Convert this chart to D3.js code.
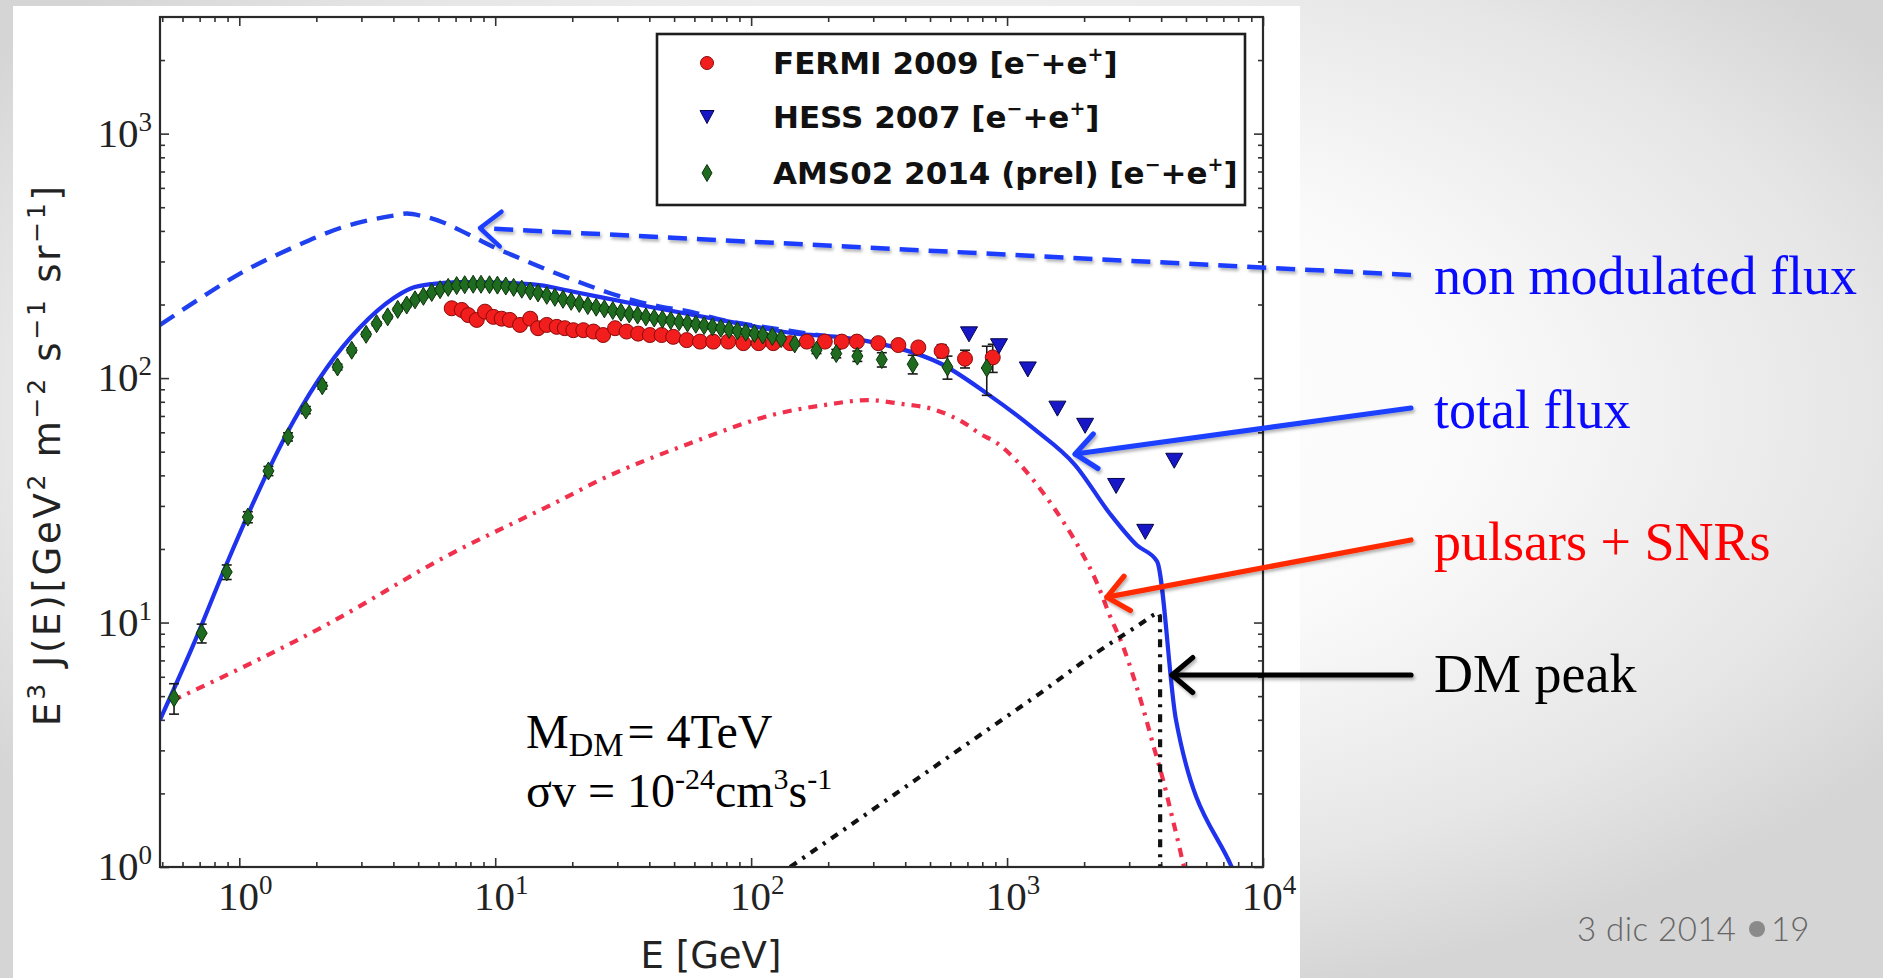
<!DOCTYPE html>
<html>
<head>
<meta charset="utf-8">
<script src="https://cdn.jsdelivr.net/npm/d3@7"></script>
<style>
  html, body { margin: 0; padding: 0; overflow: hidden; background: #fff; }
  svg { display: block; }
</style>
</head>
<body>
<svg id="chart" width="1883" height="978"></svg>
<script>
// ---------------- data ----------------
// AMS-02 2014 (preliminary) e- + e+ : energy [GeV], E^3 J(E), error
const amsE = [0.556, 0.713, 0.893, 1.08, 1.30, 1.55, 1.82, 2.11, 2.42, 2.75,
  3.13, 3.44, 3.80, 4.16, 4.51, 4.86, 5.24, 5.65, 6.09, 6.55,
  7.07, 7.6, 8.2, 8.8, 9.5, 10.2, 11.0, 11.8, 12.7, 13.7,
  14.7, 15.9, 17.1, 18.4, 19.8, 21.3, 23.0, 24.8, 26.7, 28.8,
  31.0, 33.4, 36.0, 38.8, 41.8, 45.0, 48.5, 52.3, 56.4, 60.8,
  65.5, 70.6, 76.1, 82.0, 88.4, 95.3, 103, 111, 121, 131,
  148, 180, 215, 260, 324, 428, 585, 833];
const amsFlux = [4.92, 9.05, 16.1, 27.0, 41.7, 57.5, 74, 93, 111, 130,
  151, 167, 178, 191, 199, 209, 216, 224, 230, 235,
  239, 241, 242, 242, 241, 240, 238, 235, 231, 227,
  223, 218, 214, 210, 206, 202, 198, 195, 192, 189,
  186, 183, 181, 178, 176, 174, 172, 170, 168, 166,
  164, 162, 160, 158, 156, 154, 152, 150, 148, 145,
  138, 130, 126, 123, 119, 114, 111, 110];
const amsErr = [0.7, 0.8, 1.1, 1.4, 1.8, 2.2, 2.5, 2.8, 3, 3,
  3, 3, 3, 3, 3, 3, 3, 3, 3, 3,
  3, 3, 3, 3, 3, 3, 3, 3, 3, 3,
  3, 3, 3, 3, 3, 3, 3, 3, 3, 3,
  3, 3, 3, 3, 3, 3, 3, 3, 3, 3,
  3, 3, 3, 3, 3, 3, 3, 3, 3, 3,
  3, 4, 5, 6, 8, 10, 12, 25];

// Fermi-LAT 2009 e- + e+
const fermiE = [6.76, 7.40, 7.85, 8.47, 9.12, 9.84, 10.6, 11.4, 12.5, 13.7,
  14.7, 15.9, 17.4, 18.7, 20.2, 22.1, 24.2, 26.4, 29.4, 32.6,
  36.2, 40.2, 44.7, 49.6, 56.0, 63.1, 71.1, 81.4, 93.2, 107,
  122, 142, 165, 194, 226, 259, 314, 376, 450, 555,
  685, 879];
const fermiFlux = [193, 190, 181, 173, 187, 178, 175, 173, 165, 175,
  160, 165, 162, 160, 157, 157, 155, 150, 160, 155,
  152, 150, 150, 147.5, 143, 141, 141, 141, 139, 139,
  139, 139, 141, 141, 141, 141, 139, 136.5, 133.5, 129,
  120, 121.5];
const fermiErr = [3, 3, 3, 3, 3, 3, 3, 3, 3, 3,
  3, 3, 3, 3, 3, 3, 3, 3, 3, 3,
  3, 3, 3, 3, 3, 3, 3, 3, 3, 3,
  3, 3, 3, 3, 4, 4, 5, 5, 6, 8,
  10, 16];

// H.E.S.S. 2007 e- + e+
const hessE = [710, 930, 1205, 1573, 2018, 2667, 3466, 4500];
const hessFlux = [151, 135, 108.5, 75, 63.8, 36.2, 23.5, 45.9];

// model curves
const totalE = [0.49, 0.661, 0.893, 1.205, 1.63, 2.195, 2.96, 4.0, 4.65, 5.74,
  7.3, 10, 14.9, 20, 36.8, 90.4, 150, 221, 300, 382,
  547, 833, 1264, 1845, 2515, 3218, 3855, 4570, 7550, 8100];
const totalFlux = [4.0, 8.1, 17.4, 35.5, 66.7, 110, 161, 212, 232, 243,
  247, 246, 240, 226, 199, 167, 152, 147, 140, 132,
  115, 86.6, 62.4, 44.1, 28.0, 20.7, 17.8, 4.0, 1.0, 0.85];

const nonModE = [0.49, 0.661, 1.04, 1.63, 2.55, 4.0, 4.5, 5.2, 6.27, 7.3,
  8.47, 9.84, 12.5, 16.4, 21.5, 27.2, 34.7, 44.1, 57.7, 73.2,
  99, 126, 160, 200];
const nonModFlux = [165, 203, 273, 343, 415, 462, 471, 460, 433, 402,
  372, 344, 309, 274, 246, 225, 208, 196, 187, 175,
  165, 159, 153, 148];

const pulsarE = [0.55, 2.195, 6.46, 17.9, 25.7, 57.4, 128, 200, 286, 380,
  523, 700, 781, 912, 1120, 1387, 1660, 1950, 2240, 2500,
  2850, 3150, 3445, 3710, 4070, 4380, 4710, 4880, 5150];
const pulsarFlux = [4.8, 9.8, 18.7, 31.6, 38.3, 54, 71.7, 78, 81.3, 78.6,
  74.2, 64.3, 59.3, 54.3, 44.5, 33.8, 25.8, 19.5, 14.6, 10.9,
  7.9, 5.8, 4.25, 3.2, 2.27, 1.66, 1.21, 1.03, 0.85];

const dmE = [142, 1345, 1940, 2480, 3270, 3710, 3900, 3960, 3965];
const dmFlux = [1.0, 5.13, 6.8, 8.1, 9.77, 10.7, 11.0, 10.6, 0.9];

// axis decades (tick labels are 10^k)
const xTickExponents = [0, 1, 2, 3, 4];
const yTickExponents = [0, 1, 2, 3];

const legendLabels = [
  ["FERMI 2009 [e", "−", "+e", "+", "]"],
  ["HESS 2007 [e", "−", "+e", "+", "]"],
  ["AMS02 2014 (prel) [e", "−", "+e", "+", "]"]
];

// ---------------- layout ----------------
const W = 1883, H = 978;
const plot = { left: 160, right: 1263, top: 17, bottom: 867 };

const svg = d3.select("#chart");
const defs = svg.append("defs");

const bg = defs.append("radialGradient").attr("id", "slideBg")
  .attr("cx", 0.5).attr("cy", 0.42).attr("r", 0.62);
bg.append("stop").attr("offset", "0").attr("stop-color", "#ffffff");
bg.append("stop").attr("offset", "0.45").attr("stop-color", "#fafafa");
bg.append("stop").attr("offset", "0.8").attr("stop-color", "#e6e6e6");
bg.append("stop").attr("offset", "1").attr("stop-color", "#d5d5d5");

const shadow = defs.append("filter").attr("id", "arrowShadow")
  .attr("x", "-10%").attr("y", "-50%").attr("width", "120%").attr("height", "200%");
shadow.append("feDropShadow").attr("dx", 1.5).attr("dy", 2.5)
  .attr("stdDeviation", 1.6).attr("flood-color", "#000").attr("flood-opacity", 0.3);

defs.append("clipPath").attr("id", "plotClip").append("rect")
  .attr("x", plot.left).attr("y", plot.top)
  .attr("width", plot.right - plot.left).attr("height", plot.bottom - plot.top);

// slide background and white figure panel
svg.append("rect").attr("width", W).attr("height", H).attr("fill", "url(#slideBg)");
svg.append("rect").attr("x", 13).attr("y", 6).attr("width", 1287).attr("height", 972).attr("fill", "#ffffff");

// scales
const x = d3.scaleLog().domain([0.49, 1e4]).range([plot.left, plot.right]);
const y = d3.scaleLog().domain([1, 3000]).range([plot.bottom, plot.top]);

// ---------------- ticks ----------------
const xMajor = xTickExponents.map(k => Math.pow(10, k));
const yMajor = yTickExponents.map(k => Math.pow(10, k));
const minorOf = (dom, kmin, kmax) => {
  const out = [];
  for (let k = kmin; k <= kmax; k++) for (let m = 2; m <= 9; m++) {
    const v = m * Math.pow(10, k);
    if (v > dom[0] && v < dom[1]) out.push(v);
  }
  return out;
};
const xMinor = minorOf(x.domain(), -1, 3);
const yMinor = minorOf(y.domain(), 0, 3);

const axisG = svg.append("g").attr("class", "axes");
function drawTicks(axisFn, scale, values, size, transform) {
  const g = axisG.append("g").attr("transform", transform)
    .call(axisFn(scale).tickValues(values).tickSizeInner(-size).tickSizeOuter(0).tickFormat(""));
  g.select(".domain").remove();
  g.selectAll(".tick line").attr("stroke", "#333").attr("stroke-width", 1.6);
}
drawTicks(d3.axisBottom, x, xMajor, 9, `translate(0,${plot.bottom})`);
drawTicks(d3.axisBottom, x, xMinor, 5, `translate(0,${plot.bottom})`);
drawTicks(d3.axisTop, x, xMajor, 9, `translate(0,${plot.top})`);
drawTicks(d3.axisTop, x, xMinor, 5, `translate(0,${plot.top})`);
drawTicks(d3.axisLeft, y, yMajor, 9, `translate(${plot.left},0)`);
drawTicks(d3.axisLeft, y, yMinor, 5, `translate(${plot.left},0)`);
drawTicks(d3.axisRight, y, yMajor, 9, `translate(${plot.right},0)`);
drawTicks(d3.axisRight, y, yMinor, 5, `translate(${plot.right},0)`);

// rich text helper (superscripts / subscripts via dy)
function rich(sel, parts, base, small, rise) {
  let shift = 0;
  parts.forEach(p => {
    const target = p.sup ? -rise : (p.sub ? rise * 0.45 : 0);
    const ts = sel.append("tspan").text(p.t)
      .attr("font-size", (p.sup || p.sub) ? small : base);
    if (target !== shift) { ts.attr("dy", target - shift); shift = target; }
    if (p.dx) ts.attr("dx", p.dx);
  });
}

// tick labels
const tickFont = "'Liberation Serif', 'Times New Roman', serif";
xTickExponents.forEach(k => {
  const t = axisG.append("text").attr("x", x(Math.pow(10, k)) + 6).attr("y", 910)
    .attr("text-anchor", "middle").attr("font-family", tickFont).attr("fill", "#222");
  rich(t, [{ t: "10" }, { t: String(k), sup: true }], 41, 27, 16);
});
yTickExponents.forEach(k => {
  const t = axisG.append("text").attr("x", 152).attr("y", y(Math.pow(10, k)) + 13)
    .attr("text-anchor", "end").attr("font-family", tickFont).attr("fill", "#222");
  rich(t, [{ t: "10" }, { t: String(k), sup: true }], 41, 27, 16);
});

// axis titles
const sansFont = "'DejaVu Sans', Verdana, sans-serif";
svg.append("text").attr("x", 711).attr("y", 968).attr("text-anchor", "middle")
  .attr("font-family", sansFont).attr("font-size", 37).attr("fill", "#222")
  .text("E [GeV]");
const yTitle = svg.append("text").attr("transform", "translate(60,456) rotate(-90)")
  .attr("text-anchor", "middle").attr("font-family", sansFont).attr("fill", "#222");
rich(yTitle, [
  { t: "E" }, { t: "3", sup: true }, { t: " J(E)[GeV" }, { t: "2", sup: true },
  { t: " m" }, { t: "−2", sup: true }, { t: " s" }, { t: "−1", sup: true },
  { t: " sr" }, { t: "−1", sup: true }, { t: "]" }
], 37, 25, 15);
yTitle.attr("textLength", 540).attr("lengthAdjust", "spacing");

// ---------------- model curves ----------------
const curves = svg.append("g").attr("clip-path", "url(#plotClip)");
const smooth = d3.line().x(d => x(d[0])).y(d => y(d[1])).curve(d3.curveMonotoneX);
const straight = d3.line().x(d => x(d[0])).y(d => y(d[1]));
const zipPts = (a, b) => a.map((v, i) => [v, b[i]]);

curves.append("path").attr("d", smooth(zipPts(pulsarE, pulsarFlux)))
  .attr("fill", "none").attr("stroke", "#f0304c").attr("stroke-width", 4.2)
  .attr("stroke-dasharray", "9,7,3,7");
curves.append("path").attr("d", straight(zipPts(dmE, dmFlux)))
  .attr("fill", "none").attr("stroke", "#111").attr("stroke-width", 4.2)
  .attr("stroke-dasharray", "8,7,3,7");
curves.append("path").attr("d", smooth(zipPts(nonModE, nonModFlux)))
  .attr("fill", "none").attr("stroke", "#1f40ee").attr("stroke-width", 4.4)
  .attr("stroke-dasharray", "17,10");
curves.append("path").attr("d", smooth(zipPts(totalE, totalFlux)))
  .attr("fill", "none").attr("stroke", "#1f33ee").attr("stroke-width", 4.2);

// ---------------- data points ----------------
const pts = svg.append("g").attr("clip-path", "url(#plotClip)");
function errorBars(E, F, err) {
  const g = pts.append("g").attr("stroke", "#1a1a1a").attr("stroke-width", 1.6);
  E.forEach((e, i) => {
    const cx = x(e), lo = y(Math.max(F[i] - err[i], 0.5)), hi = y(F[i] + err[i]);
    g.append("line").attr("x1", cx).attr("x2", cx).attr("y1", lo).attr("y2", hi);
    g.append("line").attr("x1", cx - 5).attr("x2", cx + 5).attr("y1", lo).attr("y2", lo);
    g.append("line").attr("x1", cx - 5).attr("x2", cx + 5).attr("y1", hi).attr("y2", hi);
  });
}
errorBars(fermiE, fermiFlux, fermiErr);
errorBars(amsE, amsFlux, amsErr);

const diamond = (w, h) => `M0,${-h / 2}L${w / 2},0L0,${h / 2}L${-w / 2},0Z`;
const triDown = (w, h) => `M${-w / 2},${-h / 2}L${w / 2},${-h / 2}L0,${h / 2}Z`;

pts.selectAll("circle.fermi").data(zipPts(fermiE, fermiFlux)).join("circle")
  .attr("class", "fermi").attr("cx", d => x(d[0])).attr("cy", d => y(d[1])).attr("r", 7.5)
  .attr("fill", "#f21d1d").attr("stroke", "#8a0a0a").attr("stroke-width", 1);
pts.selectAll("path.ams").data(zipPts(amsE, amsFlux)).join("path")
  .attr("class", "ams").attr("d", diamond(11, 18))
  .attr("transform", d => `translate(${x(d[0])},${y(d[1])})`)
  .attr("fill", "#1f6b1f").attr("stroke", "#0b330b").attr("stroke-width", 1);
pts.selectAll("path.hess").data(zipPts(hessE, hessFlux)).join("path")
  .attr("class", "hess").attr("d", triDown(17, 15))
  .attr("transform", d => `translate(${x(d[0])},${y(d[1])})`)
  .attr("fill", "#1717c8").attr("stroke", "#05054a").attr("stroke-width", 1);

// plot frame
svg.append("rect").attr("x", plot.left).attr("y", plot.top)
  .attr("width", plot.right - plot.left).attr("height", plot.bottom - plot.top)
  .attr("fill", "none").attr("stroke", "#2a2a2a").attr("stroke-width", 2.2);

// ---------------- legend ----------------
const leg = svg.append("g");
leg.append("rect").attr("x", 657).attr("y", 34).attr("width", 588).attr("height", 171)
  .attr("fill", "#fff").attr("stroke", "#1e1e1e").attr("stroke-width", 2.6);
const legY = [63, 117, 173];
leg.append("circle").attr("cx", 707).attr("cy", legY[0]).attr("r", 6.5)
  .attr("fill", "#f21d1d").attr("stroke", "#8a0a0a").attr("stroke-width", 1);
leg.append("path").attr("d", triDown(14, 13)).attr("transform", `translate(707,${legY[1]})`)
  .attr("fill", "#1717c8").attr("stroke", "#05054a").attr("stroke-width", 1);
leg.append("path").attr("d", diamond(10, 17)).attr("transform", `translate(707,${legY[2]})`)
  .attr("fill", "#1f6b1f").attr("stroke", "#0b330b").attr("stroke-width", 1);
legendLabels.forEach((parts, i) => {
  const t = leg.append("text").attr("x", 773).attr("y", legY[i] + 11)
    .attr("font-family", sansFont).attr("font-weight", "bold").attr("fill", "#111");
  rich(t, [{ t: parts[0] }, { t: parts[1], sup: true }, { t: parts[2] }, { t: parts[3], sup: true }, { t: parts[4] }],
    31, 19, 13);
});

// ---------------- annotations ----------------
const serif = "'Liberation Serif', 'Times New Roman', serif";
const ann = svg.append("g");

function arrow(x1, y1, x2, y2, color, width, dash) {
  const g = ann.append("g").attr("filter", "url(#arrowShadow)")
    .attr("stroke", color).attr("stroke-width", width).attr("fill", "none")
    .attr("stroke-linecap", "round").attr("stroke-linejoin", "round");
  const line = g.append("line").attr("x1", x1).attr("y1", y1).attr("x2", x2).attr("y2", y2);
  if (dash) line.attr("stroke-dasharray", dash).attr("stroke-linecap", "butt");
  const ang = Math.atan2(y1 - y2, x1 - x2), L = 27, spread = 0.7;
  g.append("path").attr("d",
    `M${x2 + L * Math.cos(ang + spread)},${y2 + L * Math.sin(ang + spread)}` +
    `L${x2},${y2}` +
    `L${x2 + L * Math.cos(ang - spread)},${y2 + L * Math.sin(ang - spread)}`);
}
// arrow tips point at the curves (data coordinates), tails sit beside the labels
arrow(1411, 275, x(8.72), y(411), "#1a3cff", 4.5, "19,10");
arrow(1411, 408, x(1845), y(48.9), "#1f40ff", 5.2, null);
arrow(1411, 540, x(2455), y(12.7), "#ff2a00", 5.2, null);
arrow(1411, 675, x(4412), y(6.1), "#000000", 5.2, null);

const labels = [
  { t: "non modulated flux", y: 294, c: "#0a0aff" },
  { t: "total flux", y: 428, c: "#0a0aff" },
  { t: "pulsars + SNRs", y: 560, c: "#ff0000" },
  { t: "DM peak", y: 692, c: "#000000" }
];
labels.forEach(l => ann.append("text").attr("x", 1434).attr("y", l.y)
  .attr("font-family", serif).attr("font-size", 54).attr("fill", l.c).text(l.t));

// dark matter parameters
const p1 = ann.append("text").attr("x", 526).attr("y", 748).attr("font-family", serif).attr("fill", "#000");
rich(p1, [{ t: "M" }, { t: "DM", sub: true }, { t: "= 4TeV", dx: 4 }], 48, 34, 18);
const p2 = ann.append("text").attr("x", 526).attr("y", 807).attr("font-family", serif).attr("fill", "#000");
rich(p2, [{ t: "σv = 10" }, { t: "-24", sup: true }, { t: "cm" }, { t: "3", sup: true }, { t: "s" }, { t: "-1", sup: true }], 48, 30, 18);

// slide footer
const footFont = "Lato, 'Open Sans', sans-serif";
svg.append("text").attr("x", 1577).attr("y", 941).attr("font-family", footFont)
  .attr("font-weight", 300).attr("font-size", 33).attr("fill", "#666")
  .attr("textLength", 159).attr("lengthAdjust", "spacing").text("3 dic 2014");
svg.append("circle").attr("cx", 1757).attr("cy", 929).attr("r", 8).attr("fill", "#8a8a8a");
svg.append("text").attr("x", 1771).attr("y", 941).attr("font-family", footFont)
  .attr("font-weight", 300).attr("font-size", 33).attr("fill", "#666").text("19");
</script>
</body>
</html>
